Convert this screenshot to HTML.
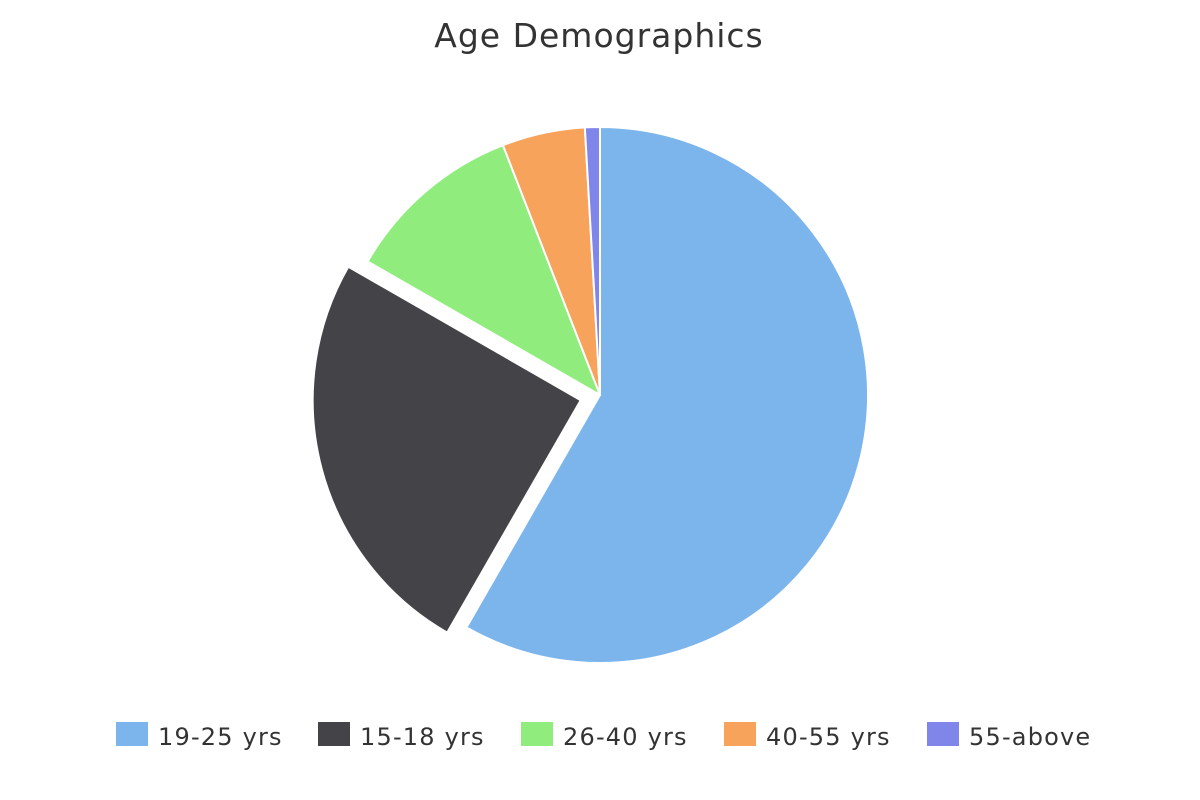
<!DOCTYPE html>
<html><head><meta charset="utf-8"><style>
html,body{margin:0;padding:0;background:#fff;}
svg{display:block;font-family:"DejaVu Sans","Liberation Sans",sans-serif;}
</style></head><body>
<svg id="chart" width="1200" height="800">
<text x="599" y="47" text-anchor="middle" font-size="33" letter-spacing="1" fill="#333">Age Demographics</text>
<g id="slices"></g>
<g id="legend"></g>
</svg>
<script>
const categories = ["19-25 yrs","15-18 yrs","26-40 yrs","40-55 yrs","55-above"];
const values = [58.3, 25.0, 10.8, 5.0, 0.9];
const sliced = [false, true, false, false, false];
const colors = ["#7cb5ec","#434348","#90ed7d","#f7a35c","#8085e9"];
const NS="http://www.w3.org/2000/svg";
const cx=600, cy=395, r=268, off=20;
const total=values.reduce((a,b)=>a+b,0);
const sg=document.getElementById('slices');
let a0=0;
values.forEach((v,i)=>{
  const a1=a0+v/total*Math.PI*2;
  const mid=(a0+a1)/2;
  const ox=sliced[i]?Math.sin(mid)*off:0, oy=sliced[i]?-Math.cos(mid)*off:0;
  const x0=cx+ox+r*Math.sin(a0), y0=cy+oy-r*Math.cos(a0);
  const x1=cx+ox+r*Math.sin(a1), y1=cy+oy-r*Math.cos(a1);
  const p=document.createElementNS(NS,'path');
  p.setAttribute('d',`M${cx+ox},${cy+oy}L${x0},${y0}A${r},${r} 0 ${a1-a0>Math.PI?1:0} 1 ${x1},${y1}Z`);
  p.setAttribute('fill',colors[i]);
  p.setAttribute('stroke','#fff');
  p.setAttribute('stroke-width','2');
  p.setAttribute('stroke-linejoin','round');
  
  
  sg.appendChild(p);
  a0=a1;
});
const lg=document.getElementById('legend');
const lx=[116,318,521,724,927];
categories.forEach((c,i)=>{
  const g=document.createElementNS(NS,'g');
  
  
  const rc=document.createElementNS(NS,'rect');
  rc.setAttribute('x',lx[i]);rc.setAttribute('y',722);rc.setAttribute('width',32);rc.setAttribute('height',24);
  rc.setAttribute('fill',colors[i]);
  
  
  const t=document.createElementNS(NS,'text');
  t.setAttribute('x',lx[i]+42);t.setAttribute('y',745);t.setAttribute('font-size','24');t.setAttribute('letter-spacing','1.2');t.setAttribute('fill','#333');
  
  
  t.textContent=c;
  g.appendChild(rc);g.appendChild(t);lg.appendChild(g);
});
</script>
</body></html>
